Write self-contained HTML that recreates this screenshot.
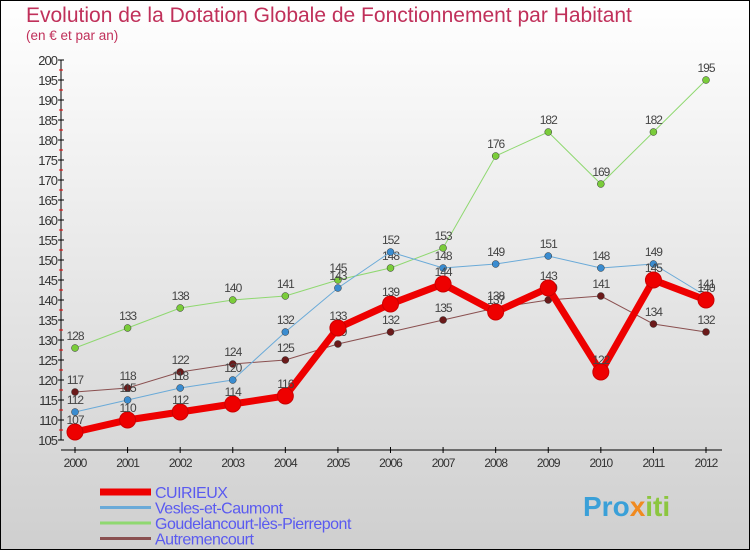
<!DOCTYPE html>
<html><head><meta charset="utf-8"><style>
html,body{margin:0;padding:0}
body{width:750px;height:550px;overflow:hidden;font-family:"Liberation Sans",sans-serif}
svg{display:block}
</style></head><body>
<svg id="c" width="750" height="550" xmlns="http://www.w3.org/2000/svg">
<defs><linearGradient id="bg" x1="0" y1="0" x2="0" y2="1"><stop offset="0" stop-color="#ffffff"/><stop offset="1" stop-color="#cfcfcf"/></linearGradient></defs>
<rect x="0.5" y="0.5" width="749" height="549" fill="url(#bg)" stroke="#000"/>
<text x="26" y="22" font-size="21" fill="#c0305a">Evolution de la Dotation Globale de Fonctionnement par Habitant</text>
<text x="26" y="40" font-size="13.5" fill="#c0305a">(en € et par an)</text>
<g id="axes"></g><g id="series"></g><g id="legend"></g>
<text x="583" y="516" font-size="28" font-weight="bold" fill="#3aa0d8">Pro<tspan fill="#f08a20">x</tspan><tspan fill="#8cc63f">iti</tspan></text>
</svg>
<script>
const years=[2000,2001,2002,2003,2004,2005,2006,2007,2008,2009,2010,2011,2012];
const yTicks=[105,110,115,120,125,130,135,140,145,150,155,160,165,170,175,180,185,190,195,200];
const cuirieux=[107,110,112,114,116,133,139,144,137,143,122,145,140];
const vesles=[112,115,118,120,132,143,152,148,149,151,148,149,141];
const goudelancourt=[128,133,138,140,141,145,148,153,176,182,169,182,195];
const autremencourt=[117,118,122,124,125,129,132,135,138,140,141,134,132];
const NS="http://www.w3.org/2000/svg";
const X=i=>75+i*(706-75)/12;
const Y=v=>440-(v-105)*4;
function mk(t,a,p){const e=document.createElementNS(NS,t);for(const k in a)e.setAttribute(k,a[k]);p.appendChild(e);return e;}
const ax=document.getElementById('axes');
let l=mk('line',{x1:61,y1:Y(200),x2:61,y2:Y(105),stroke:'#000'},ax);


l=mk('line',{x1:61,y1:450,x2:722,y2:450,stroke:'#000'},ax);


yTicks.forEach(v=>{
 mk('line',{x1:58,y1:Y(v),x2:64,y2:Y(v),stroke:'#000'},ax);
 if(v<200)mk('line',{x1:59,y1:Y(v+2.5),x2:63,y2:Y(v+2.5),stroke:'#e00'},ax);
 const t=mk('text',{x:57,y:Y(v)+5,'text-anchor':'end','font-size':13,fill:'#333','letter-spacing':'-1'},ax);
 t.textContent=v;
 
 
});
years.forEach((y,i)=>{
 mk('line',{x1:X(i),y1:447,x2:X(i),y2:453,stroke:'#000'},ax);
 const t=mk('text',{x:X(i),y:467,'text-anchor':'middle','font-size':12,fill:'#333','letter-spacing':'-1'},ax);
 t.textContent=y;
 
 
});
const sg=document.getElementById('series');
const defs=[
 {name:'autremencourt',d:autremencourt,c:'#6b1a1a',w:1,r:3.5,lc:'#8a5050',lbl:'Autremencourt'},
 {name:'goudelancourt',d:goudelancourt,c:'#7acc3a',w:1,r:3.5,lc:'#8fd870',lbl:'Goudelancourt-lès-Pierrepont'},
 {name:'vesles',d:vesles,c:'#3a8cd0',w:1,r:3.5,lc:'#6aaad8',lbl:'Vesles-et-Caumont'},
 {name:'cuirieux',d:cuirieux,c:'#ee0000',w:7,r:8,lc:'#ee0000',lbl:'CUIRIEUX'}];
defs.forEach(s=>{
 const g=mk('g',{},sg);
 
 
 const p=mk('polyline',{points:s.d.map((v,i)=>X(i)+','+Y(v)).join(' '),fill:'none',stroke:s.lc,'stroke-width':s.w},g);
 
 
 s.d.forEach((v,i)=>{
  const c=mk('circle',{cx:X(i),cy:Y(v),r:s.r,fill:s.c,stroke:s.w>1?'#c00':'#333','stroke-width':s.w>1?1:0.5},g);
  
  
  const t=mk('text',{x:X(i),y:Y(v)-8,'text-anchor':'middle','font-size':12,fill:'#444','letter-spacing':'-1'},g);
  t.textContent=v;
  
  
 });
});
const lg=document.getElementById('legend');
[defs[3],defs[2],defs[1],defs[0]].forEach((s,k)=>{
 const y=492+k*15.5;
 const g=mk('g',{},lg);
 
 
 mk('line',{x1:100,y1:y,x2:151,y2:y,stroke:s.lc,'stroke-width':s.w>1?7:3},g);
 const t=mk('text',{x:155,y:y+6,'font-size':16,fill:'#5a5af0','letter-spacing':'-0.5'},g);
 t.textContent=s.lbl;
});
</script>
</body></html>
